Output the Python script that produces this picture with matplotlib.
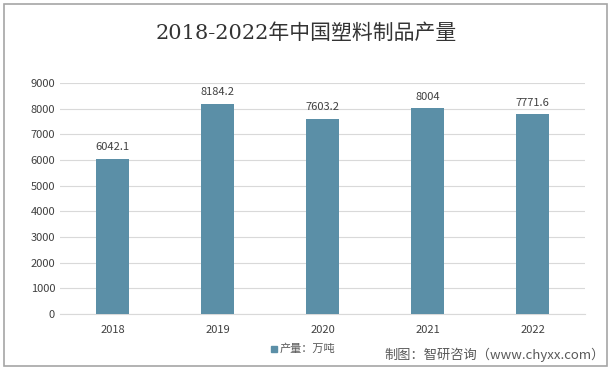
import numpy as np
import matplotlib.pyplot as plt
from matplotlib.patches import Rectangle

plt.rcParams['font.family'] = ['Noto Sans CJK SC', 'DejaVu Sans']

years = ['2018', '2019', '2020', '2021', '2022']
output = [6042.1, 8184.2, 7603.2, 8004, 7771.6]
labels = ['6042.1', '8184.2', '7603.2', '8004', '7771.6']
bar_color = '#5b8fa7'

fig = plt.figure(figsize=(6.12, 3.70), dpi=100)
ax = fig.add_axes([0.098, 0.151, 0.858, 0.625])

x = np.arange(len(years))
bars = ax.bar(x, output, width=0.32, color=bar_color, zorder=3)
for xi, v, t in zip(x, output, labels):
    ax.text(xi, v + 250, t, ha='center', va='bottom', fontsize=8, color='#404040')

ax.set_xlim(-0.5, len(years) - 0.5)
ax.set_ylim(0, 9000)
ax.set_yticks(np.arange(0, 9001, 1000))
ax.set_xticks(x)
ax.set_xticklabels(years)
ax.tick_params(axis='both', length=0, labelsize=8, colors='#404040')
ax.tick_params(axis='x', pad=8)
ax.grid(axis='y', color='#d9d9d9', linewidth=0.8, zorder=0)
for s in ['top', 'right', 'left']:
    ax.spines[s].set_visible(False)
ax.spines['bottom'].set_color('#d9d9d9')

fig.text(0.5, 0.91, '2018-2022年中国塑料制品产量', ha='center', va='center',
         fontsize=15, color='#333333', family=['DejaVu Serif', 'Noto Sans CJK SC'])

# legend
fig.patches.append(Rectangle((0.443, 0.048), 0.010, 0.017, transform=fig.transFigure,
                             color=bar_color))
fig.text(0.457, 0.057, '产量：万吨', ha='left', va='center', fontsize=8, color='#595959')

fig.text(0.988, 0.04, '制图：智研咨询（www.chyxx.com）', ha='right', va='center',
         fontsize=9.5, color='#595959')

# outer border
fig.patches.append(Rectangle((0.006, 0.012), 0.986, 0.978, transform=fig.transFigure,
                             fill=False, edgecolor='#a6a6a6', linewidth=1.2))

fig.savefig('out.png', dpi=100)
